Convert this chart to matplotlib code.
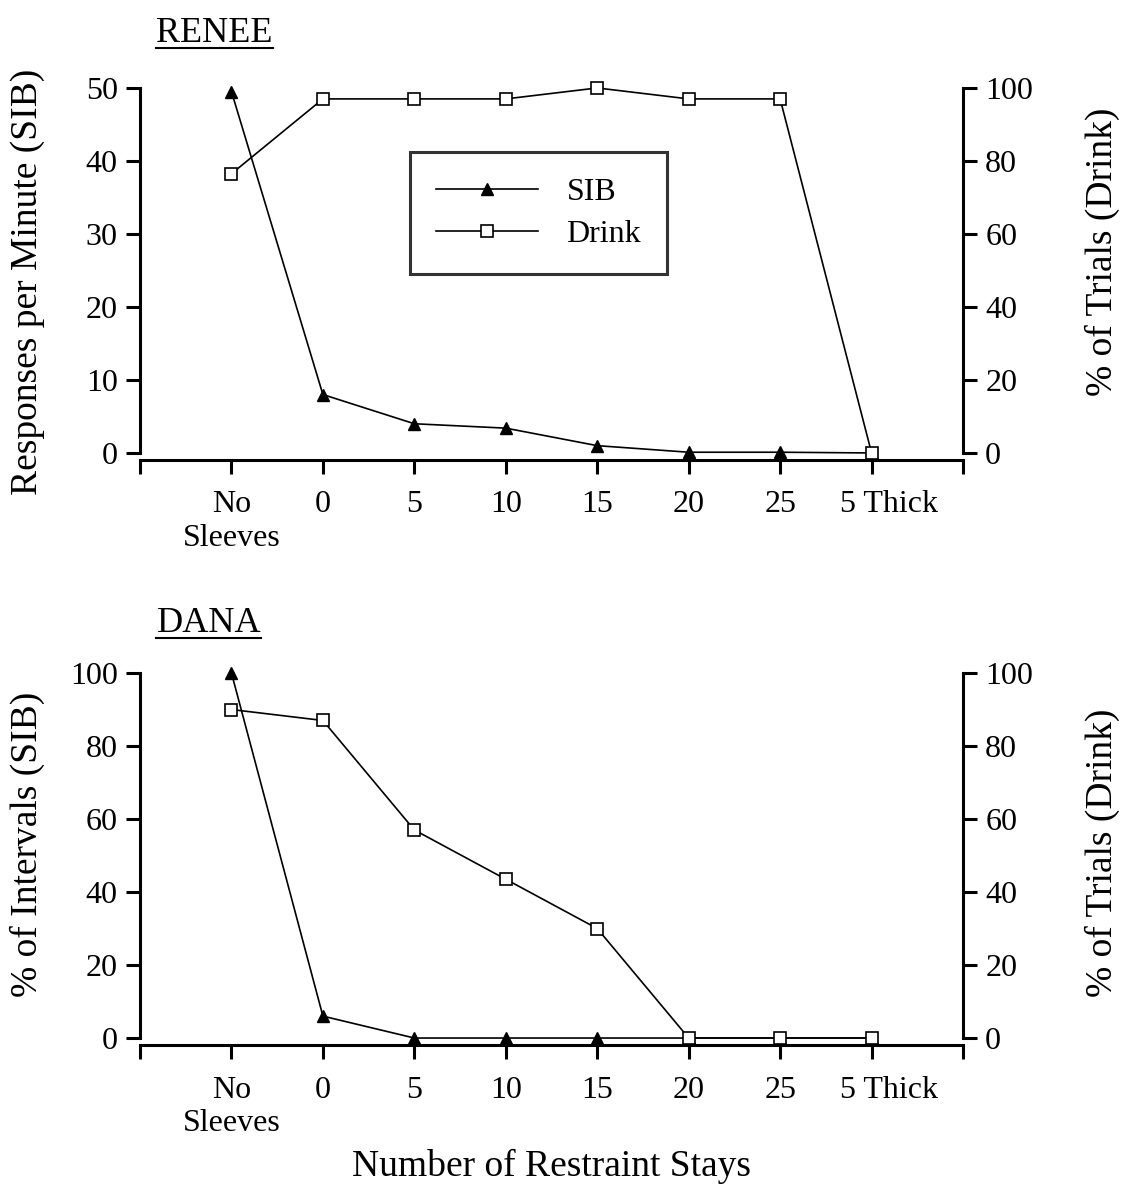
import matplotlib
matplotlib.use("Agg")
import matplotlib.pyplot as plt
from matplotlib.lines import Line2D
from matplotlib.transforms import ScaledTranslation

plt.rcParams["font.family"] = ["Liberation Serif", "DejaVu Serif"]

# Data
categories = ["No\nSleeves", "0", "5", "10", "15", "20", "25", "5 Thick"]
renee_sib = [49.5, 8.0, 4.0, 3.4, 1.0, 0.1, 0.1, 0.0]
renee_drink = [76.5, 97.0, 97.0, 97.0, 100.0, 97.0, 97.0, 0.0]
dana_sib = [100.0, 6.0, 0.0, 0.0, 0.0, 0.0, 0.0, 0.0]
dana_drink = [90.0, 87.0, 57.0, 43.5, 30.0, 0.0, 0.0, 0.0]

TICK_FS = 23
LABEL_FS = 27
RLABEL_FS = 27
TITLE_FS = 26
LW_SPINE = 2.2
LW_LINE = 1.2

fig = plt.figure(figsize=(11.22, 11.87), dpi=100)


def make_panel(rect, sib, drink, left_max, left_step, left_label, name, ly, ry, ty):
    ax = fig.add_axes(rect)
    ax2 = ax.twinx()
    x = list(range(len(categories)))

    ax.plot(x, sib, color="black", lw=LW_LINE, marker="^", markersize=9,
            markerfacecolor="black", markeredgecolor="black", clip_on=False,
            zorder=3, label="SIB")
    ax2.plot(x, drink, color="black", lw=LW_LINE, marker="s", markersize=9,
             markerfacecolor="white", markeredgecolor="black", mew=1.2,
             clip_on=False, zorder=3, label="Drink")

    ax.set_xlim(-1, len(categories))
    ax.set_ylim(0, left_max)
    ax2.set_ylim(0, 100)
    ax.set_yticks(range(0, left_max + 1, left_step))
    ax2.set_yticks(range(0, 101, 20))
    ax.set_xticks(range(-1, len(categories) + 1))
    ax.set_xticklabels([""] + categories + [""], linespacing=1.0)

    for s in ["top", "right"]:
        ax.spines[s].set_visible(False)
    for s in ["top", "left", "bottom"]:
        ax2.spines[s].set_visible(False)
    ax.spines["bottom"].set_position(("outward", 5))
    ax.spines["left"].set_linewidth(LW_SPINE)
    ax.spines["bottom"].set_linewidth(LW_SPINE)
    ax2.spines["right"].set_linewidth(LW_SPINE)

    ax.tick_params(axis="both", direction="out", length=10, width=LW_SPINE,
                   labelsize=TICK_FS, pad=6)
    ax.tick_params(axis="x", pad=12)
    ax2.tick_params(axis="y", direction="out", length=10, width=LW_SPINE,
                    labelsize=TICK_FS, pad=6)

    # "5 Thick" sits a little right of its tick in the original
    lbl = ax.get_xticklabels()[len(categories)]
    lbl.set_transform(lbl.get_transform() + ScaledTranslation(0.17, 0, fig.dpi_scale_trans))

    ax.set_ylabel(left_label, fontsize=LABEL_FS)
    ax.yaxis.set_label_coords(-0.115, ly)
    ax2.set_ylabel("% of Trials (Drink)", fontsize=RLABEL_FS)
    ax2.yaxis.set_label_coords(1.148, ry)

    ax.text(0.02, ty, name, transform=ax.transAxes, fontsize=TITLE_FS,
            ha="left", va="baseline")
    return ax, ax2


ax_r, ax_r2 = make_panel([0.1248, 0.6184, 0.7335, 0.3075], renee_sib, renee_drink,
                         50, 10, "Responses per Minute (SIB)", "RENEE", 0.47, 0.55, 1.125)
ax_d, ax_d2 = make_panel([0.1248, 0.1255, 0.7335, 0.3075], dana_sib, dana_drink,
                         100, 20, "% of Intervals (SIB)", "DANA", 0.53, 0.507, 1.112)

ax_d.set_xlabel("Number of Restraint Stays", fontsize=LABEL_FS, labelpad=8)

# Legend in the top panel
handles = [
    Line2D([], [], color="black", lw=LW_LINE, marker="^", markersize=9,
           markerfacecolor="black"),
    Line2D([], [], color="black", lw=LW_LINE, marker="s", markersize=9,
           markerfacecolor="white", mew=1.2),
]
leg = ax_r2.legend(handles, ["SIB", "Drink"], loc="upper left",
                   bbox_to_anchor=(0.328, 0.825), borderaxespad=0,
                   fontsize=TICK_FS, frameon=True, fancybox=False,
                   handlelength=3.2, handletextpad=0.9, borderpad=0.8,
                   labelspacing=0.4)
leg.get_frame().set_edgecolor("black")
leg.get_frame().set_linewidth(2.2)

# Underline the panel names
fig.canvas.draw()
renderer = fig.canvas.get_renderer()
for a in [ax_r, ax_d]:
    for t in a.texts:
        bb = t.get_window_extent(renderer).transformed(fig.transFigure.inverted())
        fig.add_artist(Line2D([bb.x0, bb.x1], [bb.y0 + 0.002, bb.y0 + 0.002],
                              color="black", lw=1.5, transform=fig.transFigure))

plt.savefig("out.png", dpi=100, facecolor="white")
